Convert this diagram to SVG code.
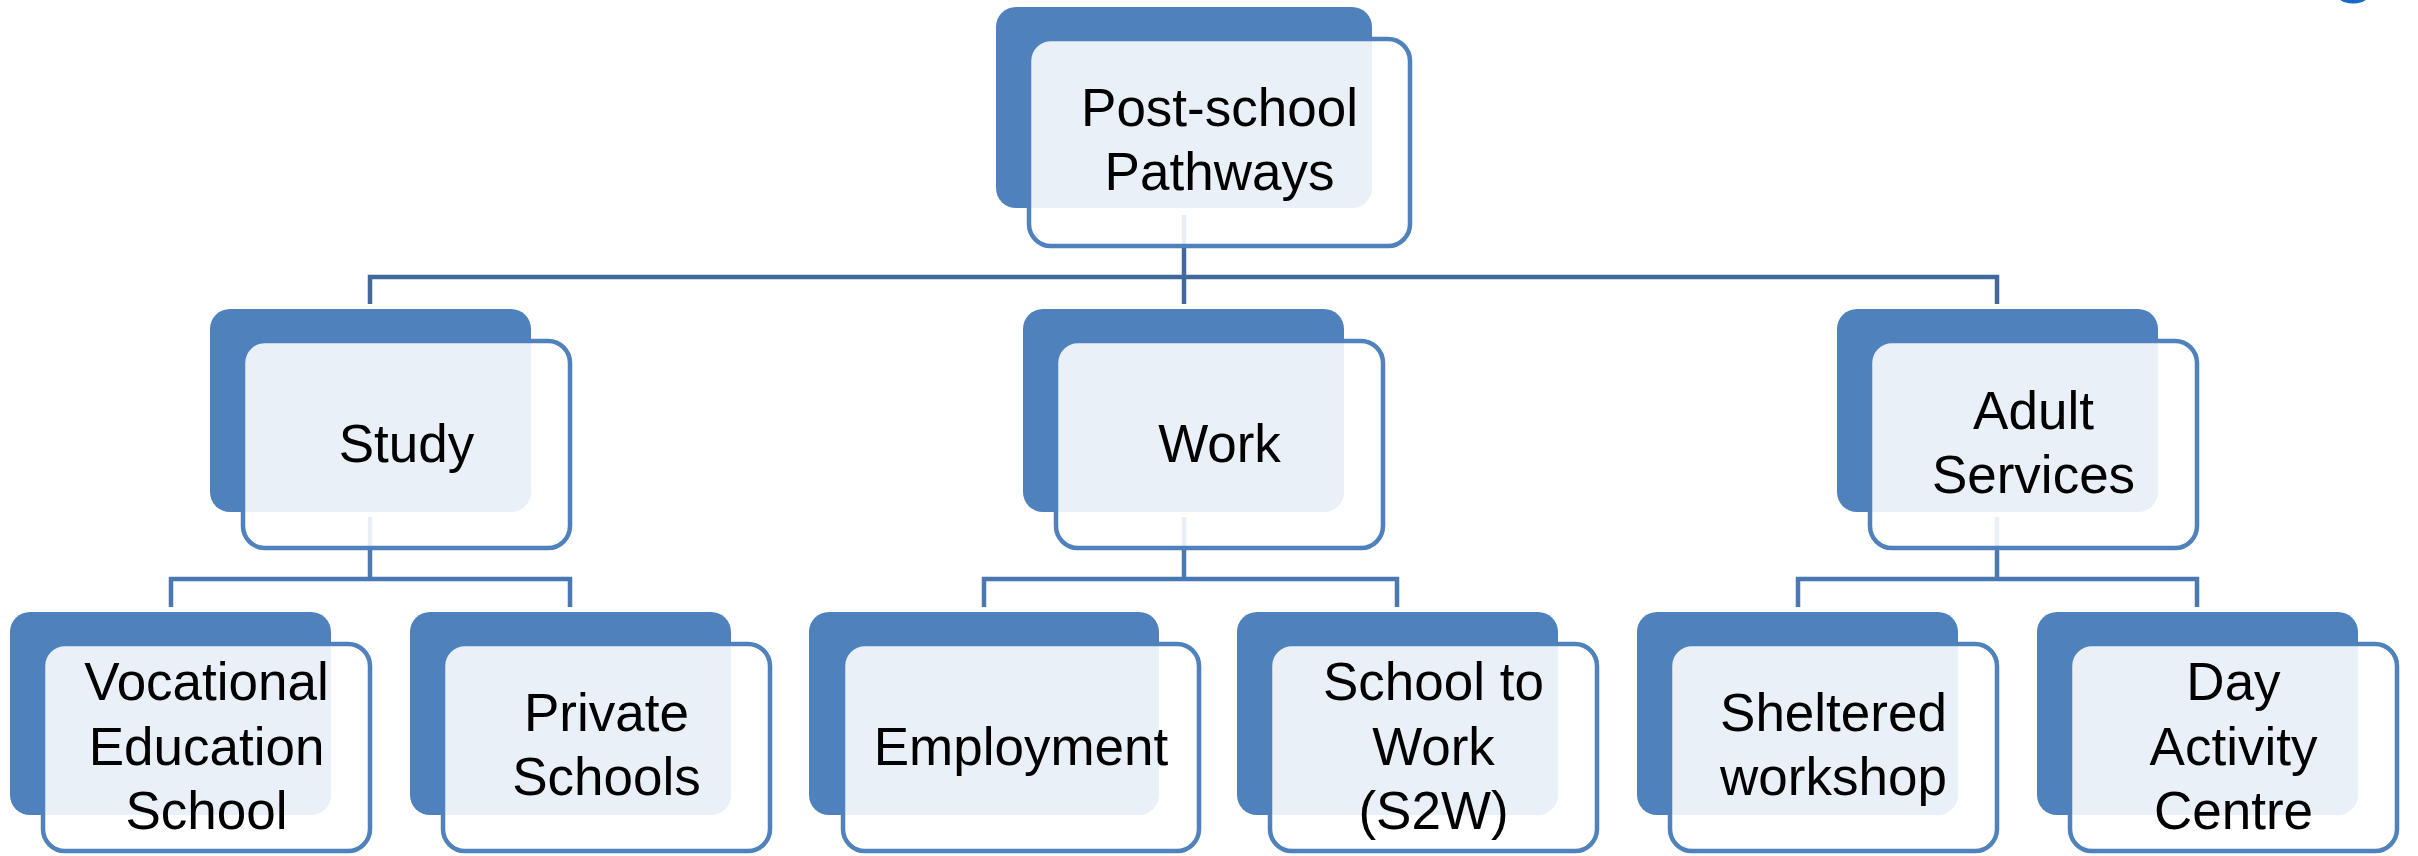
<svg xmlns="http://www.w3.org/2000/svg" width="2418" height="856" viewBox="0 0 2418 856">
<style>
.back{fill:#4F81BD}
.front{fill:#FFFFFF;fill-opacity:0.88;stroke:#4F81BD;stroke-width:4.5}
.lbl{font-family:"Liberation Sans",Arial,sans-serif;font-size:53px;fill:#000000;text-anchor:middle}
.c1{fill:none;stroke:#41699B;stroke-width:4.5;stroke-linejoin:miter}
.c2{fill:none;stroke:#4A78B2;stroke-width:4.5;stroke-linejoin:miter}
</style>
<rect width="2418" height="856" fill="#FFFFFF"/>
<ellipse cx="2353" cy="-14" rx="21.5" ry="17.5" fill="#1A68C6"/>
<g id="connectors">
  <path class="c1" d="M1184,215 V277"/>
  <path class="c1" d="M370,304 V277 H1997 V304"/>
  <path class="c1" d="M1184,277 V304"/>
  <path class="c2" d="M370,517 V579"/>
  <path class="c2" d="M171,607 V579 H570 V607"/>
  <path class="c2" d="M1184,517 V579"/>
  <path class="c2" d="M984,607 V579 H1397 V607"/>
  <path class="c2" d="M1997,517 V579"/>
  <path class="c2" d="M1798,607 V579 H2197 V607"/>
</g>
<g id="node-post-school">
  <rect class="back" x="996" y="7" width="376" height="201" rx="20"/>
  <rect class="front" x="1029" y="39" width="381" height="207" rx="22"/>
  <text class="lbl" x="1219.5" y="126">Post-school</text>
  <text class="lbl" x="1219.5" y="190">Pathways</text>
</g>
<g id="node-study">
  <rect class="back" x="210" y="309" width="321" height="203" rx="20"/>
  <rect class="front" x="243" y="341" width="327" height="207" rx="22"/>
  <text class="lbl" x="406.5" y="462">Study</text>
</g>
<g id="node-work">
  <rect class="back" x="1023" y="309" width="321" height="203" rx="20"/>
  <rect class="front" x="1056" y="341" width="327" height="207" rx="22"/>
  <text class="lbl" x="1219.5" y="462">Work</text>
</g>
<g id="node-adult-services">
  <rect class="back" x="1837" y="309" width="321" height="203" rx="20"/>
  <rect class="front" x="1870" y="341" width="327" height="207" rx="22"/>
  <text class="lbl" x="2033.5" y="429">Adult</text>
  <text class="lbl" x="2033.5" y="493">Services</text>
</g>
<g id="node-vocational">
  <rect class="back" x="10" y="612" width="321" height="203" rx="20"/>
  <rect class="front" x="43" y="644" width="327" height="207" rx="22"/>
  <text class="lbl" x="206.5" y="700">Vocational</text>
  <text class="lbl" x="206.5" y="765">Education</text>
  <text class="lbl" x="206.5" y="829">School</text>
</g>
<g id="node-private-schools">
  <rect class="back" x="410" y="612" width="321" height="203" rx="20"/>
  <rect class="front" x="443" y="644" width="327" height="207" rx="22"/>
  <text class="lbl" x="606.5" y="731">Private</text>
  <text class="lbl" x="606.5" y="795">Schools</text>
</g>
<g id="node-employment">
  <rect class="back" x="809" y="612" width="350" height="203" rx="20"/>
  <rect class="front" x="843" y="644" width="356" height="207" rx="22"/>
  <text class="lbl" x="1021" y="765">Employment</text>
</g>
<g id="node-s2w">
  <rect class="back" x="1237" y="612" width="321" height="203" rx="20"/>
  <rect class="front" x="1270" y="644" width="327" height="207" rx="22"/>
  <text class="lbl" x="1433.5" y="700">School to</text>
  <text class="lbl" x="1433.5" y="765">Work</text>
  <text class="lbl" x="1433.5" y="829">(S2W)</text>
</g>
<g id="node-sheltered">
  <rect class="back" x="1637" y="612" width="321" height="203" rx="20"/>
  <rect class="front" x="1670" y="644" width="327" height="207" rx="22"/>
  <text class="lbl" x="1833.5" y="731">Sheltered</text>
  <text class="lbl" x="1833.5" y="795">workshop</text>
</g>
<g id="node-day-activity">
  <rect class="back" x="2037" y="612" width="321" height="203" rx="20"/>
  <rect class="front" x="2070" y="644" width="327" height="207" rx="22"/>
  <text class="lbl" x="2233.5" y="700">Day</text>
  <text class="lbl" x="2233.5" y="765">Activity</text>
  <text class="lbl" x="2233.5" y="829">Centre</text>
</g>
</svg>
